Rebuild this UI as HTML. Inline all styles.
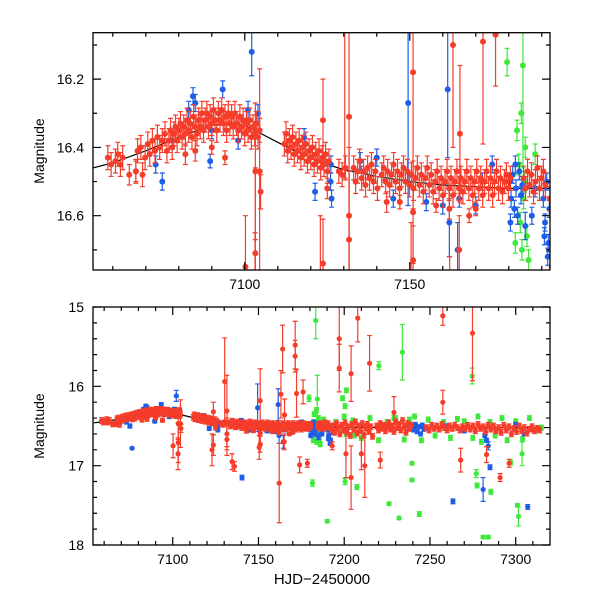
<!DOCTYPE html>
<html><head><meta charset="utf-8"><style>
html,body{margin:0;padding:0;background:#fff;width:600px;height:600px;overflow:hidden;}
svg{display:block;font-family:"Liberation Sans",Arial,sans-serif;overflow:hidden;}
</style></head><body>
<svg id="chart" width="600" height="600" viewBox="0 0 600 600">
<defs>
<clipPath id="clipTop"><rect x="93" y="32.7" width="457" height="237.3"/></clipPath>
<clipPath id="clipBot"><rect x="93" y="307" width="457" height="238"/></clipPath>
</defs>
<g id="topData" clip-path="url(#clipTop)"></g>
<g id="botData" clip-path="url(#clipBot)"></g>
<g id="axes"></g>
<text x="44" y="151" transform="rotate(-90 44 151)" text-anchor="middle" font-size="14">Magnitude</text>
<text x="44" y="426" transform="rotate(-90 44 426)" text-anchor="middle" font-size="14">Magnitude</text>
<text x="322" y="584" text-anchor="middle" font-size="15">HJD−2450000</text>
</svg>
<script>
// ---- data ----
const modelT=[7054,7060,7070,7080,7090,7095,7100,7105,7110,7115,7120,7125,7130,7140,7150,7160,7170,7180,7190,7200,7250,7320];
const modelM=[16.46,16.445,16.41,16.37,16.335,16.33,16.335,16.36,16.385,16.41,16.43,16.45,16.465,16.485,16.5,16.51,16.515,16.52,16.52,16.52,16.52,16.52];

const redBandT=[7058.5,7059.5,7060.8,7061.5,7062.3,7063.0,7067.0,7067.5,7068.5,7069.0,7069.8,7070.6,7071.2,7072.0,7072.8,7073.5,7074.2,7075.0,7075.8,7076.4,
7077.0,7077.5,7078.0,7078.5,7079.0,7079.5,7080.0,7080.5,7081.0,7081.5,7082.0,7082.5,7083.0,7083.5,7084.0,7084.5,7085.0,7085.5,7086.0,7086.5,7087.0,7087.5,7088.0,7088.5,7089.0,7089.5,7090.0,7090.5,7091.0,7091.5,7092.0,7092.5,7093.0,7093.5,7094.0,7094.5,7095.0,7095.5,7096.0,7096.5,7097.0,7097.5,7098.0,7098.5,7099.0,7099.5,7100.0,7100.5,7101.0,7101.5,7102.0,7102.5,7103.0,7103.5,7104.0,7104.5,
7112.0,7112.5,7113.0,7113.5,7114.0,7114.5,7115.0,7115.5,7116.0,7116.5,7117.0,7117.5,7118.0,7118.5,7119.0,7119.5,7120.0,7120.5,7121.0,7121.5,7122.0,7122.5,7123.0,7123.5,7124.0,7124.5,7125.0,7125.5,
7128.5,7129.5,7130.5,
7133.0,7133.6,7134.2,7134.8,7135.4,7136.0,7136.6,7137.2,7137.8,7138.4,7139.0,7139.6,7140.2,7141.5,7142.1,7142.7,7143.3,7143.9,7144.5,7145.1,7145.7,7146.3,7146.9,7147.5,7148.1,7148.7,7149.3,7149.9,
7150.5,7151.1,7151.7,7152.3,7152.9,7153.5,7154.1,7154.7,7155.3,7155.9,7156.5,7157.1,7157.7,7158.3,7158.9,7159.5,7160.1,7160.7,7161.3,7161.9,7162.5,7163.1,7163.7,7164.3,7164.9,7165.5,7166.1,7166.7,7167.3,7167.9,7168.5,7169.1,7169.7,7170.3,7170.9,7171.5,7172.1,7172.7,7173.3,7173.9,7174.5,7175.1,7175.7,7176.3,7176.9,7177.5,7178.1,7178.7,7179.3,7179.9,7180.5,
7184.5,7185.1,7185.7,7186.3,7186.9,7187.5,7188.1,7188.7,7189.3,7189.9,7190.5,7191.1,
7192.5,7193.5,7194.5,7195.5,7196.5,7197.5,7198.5,7199.5,7200.5,7201.5,7202.5,7203.5,7204.5,7205.5,7206.5,7207.5,7208.5,7209.5,7210.5,7211.5,7212.5,7213.5,7214.5,7215.5,7216.5,
7219,7220,7221,7222,7223,7224,7225,7226,7227,7228,7229,7230,7231,7232,7233,7234,7235,7236,7237,7238,7239,
7248,7249.5,7251,7252.5,7254,7255.5,7257,7258.5,7260,7261.5,7263,7264.5,7266,7267.5,7269,7270.5,7272,7273.5,7275,7276.5,7278,7279.5,7281,7282.5,7284,7285.5,7287,7288.5,7290,7291.5,7293,7294.5,7296,7297.5,7299,7300.5,7302,7303.5,7305,7306.5,7308,7309.5,7311,7312.5,7314];
const redBandM=[16.43,16.45,16.44,16.42,16.45,16.43,16.47,16.41,16.40,16.48,16.43,16.39,16.42,16.38,16.41,16.37,16.40,16.38,16.36,16.41,
16.38,16.35,16.40,16.36,16.34,16.38,16.35,16.33,16.37,16.34,16.36,16.32,16.35,16.33,16.37,16.31,16.34,16.36,16.32,16.34,16.30,16.35,16.32,16.30,16.34,16.31,16.33,16.29,16.32,16.35,16.30,16.32,16.29,16.33,16.31,16.35,16.30,16.33,16.31,16.34,16.30,16.33,16.35,16.31,16.34,16.32,16.36,16.33,16.35,16.32,16.37,16.34,16.36,16.33,16.37,16.35,
16.39,16.36,16.41,16.38,16.40,16.37,16.42,16.39,16.41,16.38,16.43,16.40,16.42,16.39,16.44,16.41,16.43,16.40,16.45,16.42,16.44,16.41,16.46,16.43,16.45,16.42,16.47,16.44,
16.47,16.48,16.46,
16.46,16.50,16.47,16.44,16.49,16.47,16.51,16.46,16.49,16.45,16.50,16.47,16.52,16.48,16.46,16.50,16.47,16.51,16.48,16.45,16.50,16.47,16.52,16.48,16.46,16.50,16.47,16.51,
16.48,16.52,16.49,16.46,16.51,16.48,16.53,16.49,16.46,16.51,16.48,16.53,16.50,16.47,16.52,16.49,16.54,16.50,16.47,16.52,16.49,16.54,16.50,16.47,16.52,16.49,16.53,16.50,16.47,16.52,16.49,16.54,16.50,16.47,16.52,16.49,16.54,16.50,16.47,16.52,16.49,16.54,16.50,16.47,16.52,16.49,16.53,16.50,16.48,16.52,16.49,
16.49,16.52,16.47,16.51,16.48,16.53,16.50,16.46,16.52,16.49,16.47,16.51,
16.55,16.50,16.58,16.47,16.53,16.60,16.49,16.55,16.46,16.57,16.51,16.62,16.48,16.54,16.45,16.59,16.50,16.56,16.47,16.61,16.52,16.48,16.57,16.51,16.63,
16.50,16.55,16.47,16.53,16.49,16.56,16.51,16.46,16.54,16.50,16.57,16.45,16.52,16.48,16.55,16.43,16.51,16.58,16.47,16.53,16.49,
16.52,16.55,16.49,16.53,16.50,16.54,16.48,16.52,16.55,16.50,16.53,16.49,16.52,16.55,16.51,16.53,16.49,16.54,16.50,16.56,16.48,16.53,16.51,16.57,16.49,16.54,16.50,16.56,16.52,16.58,16.49,16.55,16.51,16.60,16.53,16.57,16.50,16.56,16.52,16.59,16.54,16.51,16.56,16.53,16.55];
const redBandErr=0.035;

const redOutT=[7103.2,7103.2,7104.5,7104.8,7100.2,7103.1,7085,7090,7094,7082,7065,7067,7123.7,7123.7,7122.9,7131.6,7131.6,7131.6,7130.3,7134.6,7136,7151,7151,7151,7163.1,7165.2,7165,7172.2,7176,7162.1,7164.1,7171.4,7171.4,7174,7178.5,7150.4,7197.1,7197.1,7207.9,7204,7204,7214.8,7221,7229,7257.5,7257.5,7267.9,7274.8,7283,7290.9,7296.2,7170,7158,7162,7168,7147,7125,7143,7210,7212,7193,7201];
const redOutM=[16.47,16.71,16.47,16.53,16.75,16.85,16.41,16.40,16.43,16.42,16.48,16.47,16.32,16.74,16.80,16.31,16.67,16.60,15.94,16.95,17.01,16.18,16.59,16.73,16.10,16.36,16.70,16.09,16.07,17.22,15.53,15.48,15.62,16.99,16.97,16.77,15.40,15.77,15.14,15.84,17.15,15.71,16.93,16.33,15.11,16.20,16.93,15.33,16.86,17.15,16.97,16.58,16.57,16.58,16.60,16.56,16.52,16.56,16.85,17.00,16.75,16.85];
const redOutE=[0.2,0.25,0.3,0.05,0.15,0.2,0.03,0.02,0.02,0.03,0.03,0.03,0.12,0.13,0.2,0.45,0.2,0.2,0.55,0.1,0.06,0.4,0.15,0.1,0.3,0.2,0.1,0.3,0.15,0.5,0.3,0.3,0.2,0.1,0.05,0.15,0.4,0.3,0.3,0.35,0.4,0.35,0.1,0.2,0.12,0.15,0.15,0.6,0.1,0.05,0.05,0.02,0.02,0.03,0.02,0.02,0.03,0.03,0.2,0.4,0.05,0.3];

const blueBandT=[7180.2,7180.7,7181.2,7181.7,7182.2,7182.7,7183.2,7183.7,7184.1,7180.5,7182,7190.5,7191,7191.5,7192,7192.3,7191.8,7190.8,7239.5,7240.5,7241.5,7242.5,7243.5,7244.5,7245.5,7246.5,7247.5,7078,7083,7084.3,7085,7093.3,7090,7075,7073,7098,7101,7104,7118,7121.3,7126,7126.3,7126.1,7135,7140,7145,7155,7160,7165,7170,7172,7175,7187,7188,7300,7305,7310,7260,7270,7282,7283];
const blueBandM=[16.50,16.55,16.48,16.58,16.52,16.60,16.47,16.54,16.51,16.62,16.45,16.55,16.62,16.50,16.68,16.58,16.72,16.66,16.50,16.55,16.48,16.57,16.51,16.60,16.49,16.54,16.52,16.38,16.29,16.25,16.27,16.23,16.35,16.50,16.45,16.38,16.29,16.30,16.37,16.53,16.50,16.55,16.45,16.44,16.43,16.55,16.56,16.57,16.55,16.57,16.50,16.45,16.60,16.52,16.48,16.60,16.55,16.50,16.56,16.62,16.68];
const blueBandErr=0.025;
const blueOutT=[7102.1,7089.5,7076.3,7149.5,7161.5,7162,7140.4,7263.4,7285,7281,7307,7284,7185,7164.5];
const blueOutM=[16.12,16.44,16.78,16.27,16.23,16.62,17.15,17.45,17.02,17.30,17.52,16.75,16.63,16.70];
const blueOutE=[0.07,0.02,0.01,0.3,0.2,0.1,0.03,0.03,0.03,0.15,0.03,0.05,0.04,0.08];

const greenBandT=[7182.5,7183,7183.5,7184,7184.5,7185,7185.5,7186,7183.8,7184.8,7182,7188,7195,7200,7201,7205,7210,7215,7220,7225,7230,7235,7238,7241,7245,7249,7253,7258,7262,7266,7270,7275,7278,7280,7285,7288,7292,7295,7300,7304,7308,7312,7315,7199,7200.5,7201.3,7229,7205.8];
const greenBandM=[16.35,16.45,16.62,16.70,16.55,16.40,16.66,16.73,16.30,16.50,16.68,16.42,16.45,16.38,16.60,16.43,16.65,16.40,16.68,16.45,16.40,16.67,16.42,16.38,16.68,16.42,16.62,16.45,16.65,16.41,16.44,16.65,16.38,16.70,16.45,16.62,16.40,16.68,16.44,16.66,16.40,16.55,16.52,16.15,16.25,16.05,16.40,16.62];
const greenBandErr=0.03;
const greenOutT=[7183.4,7179.5,7184.3,7181.5,7190.1,7207.4,7200.5,7220.2,7226.1,7232,7233.9,7239.5,7239.5,7243.8,7274.6,7281,7301.6,7301,7277,7277.5,7303.7,7297,7285.5,7284];
const greenOutM=[15.17,16.15,16.16,17.22,17.70,17.27,17.20,15.74,17.48,17.66,15.57,17.18,16.97,17.61,15.87,17.90,17.64,17.50,17.10,17.25,16.85,16.96,17.33,17.90];
const greenOutE=[0.23,0.04,0.3,0.04,0.02,0.03,0.04,0.05,0.02,0.02,0.35,0.02,0.02,0.03,0.1,0.02,0.12,0.02,0.05,0.03,0.15,0.03,0.03,0.02];

// ---- axes ----
const NS="http://www.w3.org/2000/svg";
const panels={
  top:{x0:93,x1:550,y0:32.7,y1:270,tMin:7054,tMax:7192.5,mMin:16.064,mMax:16.759},
  bot:{x0:93,x1:550,y0:307,y1:545,tMin:7053.5,tMax:7320,mMin:15,mMax:18}
};
function xS(p,t){return p.x0+(t-p.tMin)/(p.tMax-p.tMin)*(p.x1-p.x0);}
function yS(p,m){return p.y0+(m-p.mMin)/(p.mMax-p.mMin)*(p.y1-p.y0);}
function clampY(p,y){return Math.max(p.y0,Math.min(p.y1,y));}
function mk(tag,attrs,parent){const e=document.createElementNS(NS,tag);for(const k in attrs)e.setAttribute(k,attrs[k]);parent.appendChild(e);return e;}

const colors={red:"#f53d2b",blue:"#1e5ee6",green:"#3fe83a"};
function drawPoint(g,p,t,m,e,col,r){
  const x=xS(p,t);
  if(x<p.x0-3||x>p.x1+3)return;
  const y=yS(p,m),yaR=yS(p,m-e),ybR=yS(p,m+e);
  if(ybR<p.y0||yaR>p.y1)return;
  const ya=clampY(p,yaR),yb=clampY(p,ybR);
  let d=`M${x} ${ya}V${yb}`;
  if(yaR>=p.y0)d+=`M${x-2.5} ${ya}H${x+2.5}`;
  if(ybR<=p.y1)d+=`M${x-2.5} ${yb}H${x+2.5}`;
  const bar=mk("path",{d:d,stroke:col,"stroke-width":1.2,fill:"none"},g);
  
  
  if(y>=p.y0&&y<=p.y1){
    const c=mk("circle",{cx:x,cy:y,r:r,fill:col},g);
    
    
  }
}
function drawPanel(key,gid){
  const p=panels[key];const g=document.getElementById(gid);
  let d="";modelT.forEach((t,i)=>{const tt=Math.min(Math.max(t,p.tMin),p.tMax);d+=(i?"L":"M")+xS(p,tt)+" "+yS(p,modelM[i]);});
  const ln=mk("path",{d:d,stroke:"#000","stroke-width":1.2,fill:"none"},g);
  
  
  const r=key==="top"?3:2.6;
  const sets=[
    [greenBandT,greenBandM,null,greenBandErr,colors.green],
    [greenOutT,greenOutM,greenOutE,0,colors.green],
    [blueBandT,blueBandM,null,blueBandErr,colors.blue],
    [blueOutT,blueOutM,blueOutE,0,colors.blue],
    [redOutT,redOutM,redOutE,0,colors.red],
    [redBandT,redBandM,null,redBandErr,colors.red]
  ];
  sets.forEach(s=>{
    const sg=mk("g",{},g);
    
    
    s[0].forEach((t,i)=>drawPoint(sg,p,t,s[1][i],s[2]?s[2][i]:s[3],s[4],r));
  });
}
drawPanel("top","topData");
drawPanel("bot","botData");

const xTicksTop=[7060,7070,7080,7090,7100,7110,7120,7130,7140,7150,7160,7170,7180,7190];
const xLabelsTop=[7100,7150];
const yTicksTop=[16.1,16.2,16.3,16.4,16.5,16.6,16.7];
const yLabelsTop=[16.2,16.4,16.6];
const xTicksBot=[7060,7070,7080,7090,7100,7110,7120,7130,7140,7150,7160,7170,7180,7190,7200,7210,7220,7230,7240,7250,7260,7270,7280,7290,7300,7310];
const xLabelsBot=[7100,7150,7200,7250,7300];
const yTicksBot=[15.2,15.4,15.6,15.8,16,16.2,16.4,16.6,16.8,17,17.2,17.4,17.6,17.8];
const yLabelsBot=[15,16,17,18];

const ax=document.getElementById("axes");
function axesFor(key,xt,xl,yt,yl,xMajorStep,yDigits){
  const p=panels[key];
  const fr=mk("rect",{x:p.x0,y:p.y0,width:p.x1-p.x0,height:p.y1-p.y0,fill:"none",stroke:"#000","stroke-width":1.3},ax);
  
  
  let d="";
  xt.forEach(t=>{const x=xS(p,t);const L=(t%xMajorStep===0)?8:4;d+=`M${x} ${p.y1}v${-L}M${x} ${p.y0}v${L}`;});
  yt.forEach(m=>{const y=yS(p,m);const L=yl.some(v=>Math.abs(v-m)<1e-6)?8:4;d+=`M${p.x0} ${y}h${L}M${p.x1} ${y}h${-L}`;});
  yl.forEach(m=>{const y=yS(p,m);d+=`M${p.x0} ${y}h8M${p.x1} ${y}h-8`;});
  const tk=mk("path",{d:d,stroke:"#000","stroke-width":1.2,fill:"none"},ax);
  
  
  xl.forEach(t=>{const tx=mk("text",{x:xS(p,t),y:p.y1+19,"text-anchor":"middle","font-size":14},ax);tx.textContent=String(t);
    
    });
  yl.forEach(m=>{const tx=mk("text",{x:p.x0-9,y:yS(p,m)+5,"text-anchor":"end","font-size":14},ax);tx.textContent=m.toFixed(yDigits);
    
    });
}
axesFor("top",xTicksTop,xLabelsTop,yTicksTop,yLabelsTop,50,1);
axesFor("bot",xTicksBot,xLabelsBot,yTicksBot,yLabelsBot,50,0);
</script>
</body></html>
